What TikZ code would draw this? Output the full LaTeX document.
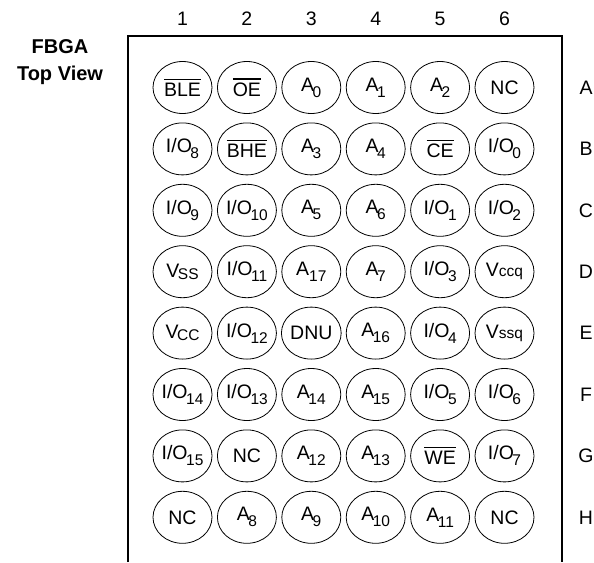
\documentclass[tikz,border=0pt]{standalone}
\usepackage{fontspec}
\setmainfont{Liberation Sans}
\usepackage{tikz}
\usetikzlibrary{shapes.geometric}

\newcommand{\pinsub}[3][6pt]{#2\kern-1.5pt\raisebox{-#1}{\fontsize{15.5}{16}\selectfont #3}}
\newcommand{\pinbar}[1]{\setbox0\hbox{#1}\rlap{\rule[\dimexpr\ht0+3pt\relax]{\wd0}{1.3pt}}\box0}

\tikzset{
  ball/.style={draw, ellipse, line width=0.8pt, minimum width=59pt,
    minimum height=52pt, inner sep=0pt, font=\fontsize{19.5}{22}\selectfont},
  tag/.style={font=\fontsize{19.5}{22}\selectfont},
}

\begin{document}
\begin{tikzpicture}[x=1pt, y=-1pt]
  \def\xsep{64.4}
  \def\ysep{61.4}
  \def\xo{182.5}
  \def\yo{87.5}

  \useasboundingbox (0,0) rectangle (594,562);

  \node[font=\bfseries\fontsize{20}{27}\selectfont, align=center] (title) at (60,62) {FBGA\\Top View};

  \draw[line width=1.5pt] (128,562) |- (562,36) -- (562,562);

  % column numbers
  \node[tag] (c1) at ({\xo+0*\xsep}, 19) {1};
  \node[tag] (c2) at ({\xo+1*\xsep}, 19) {2};
  \node[tag] (c3) at ({\xo+2*\xsep}, 19) {3};
  \node[tag] (c4) at ({\xo+3*\xsep}, 19) {4};
  \node[tag] (c5) at ({\xo+4*\xsep}, 19) {5};
  \node[tag] (c6) at ({\xo+5*\xsep}, 19) {6};

  % row letters
  \node[tag] (ra) at (586, {\yo+0*\ysep}) {A};
  \node[tag] (rb) at (586, {\yo+1*\ysep}) {B};
  \node[tag] (rc) at (586, {\yo+2*\ysep}) {C};
  \node[tag] (rd) at (586, {\yo+3*\ysep}) {D};
  \node[tag] (re) at (586, {\yo+4*\ysep}) {E};
  \node[tag] (rf) at (586, {\yo+5*\ysep}) {F};
  \node[tag] (rg) at (586, {\yo+6*\ysep}) {G};
  \node[tag] (rh) at (586, {\yo+7*\ysep}) {H};

  % row A
  \node[ball] (a1) at ({\xo+0*\xsep}, {\yo+0*\ysep}) {\pinbar{BLE}};
  \node[ball] (a2) at ({\xo+1*\xsep}, {\yo+0*\ysep}) {\pinbar{OE}};
  \node[ball] (a3) at ({\xo+2*\xsep}, {\yo+0*\ysep}) {\pinsub{A}{0}};
  \node[ball] (a4) at ({\xo+3*\xsep}, {\yo+0*\ysep}) {\pinsub{A}{1}};
  \node[ball] (a5) at ({\xo+4*\xsep}, {\yo+0*\ysep}) {\pinsub{A}{2}};
  \node[ball] (a6) at ({\xo+5*\xsep}, {\yo+0*\ysep}) {NC};

  % row B
  \node[ball] (b1) at ({\xo+0*\xsep}, {\yo+1*\ysep}) {\pinsub{I/O}{8}};
  \node[ball] (b2) at ({\xo+1*\xsep}, {\yo+1*\ysep}) {\pinbar{BHE}};
  \node[ball] (b3) at ({\xo+2*\xsep}, {\yo+1*\ysep}) {\pinsub{A}{3}};
  \node[ball] (b4) at ({\xo+3*\xsep}, {\yo+1*\ysep}) {\pinsub{A}{4}};
  \node[ball] (b5) at ({\xo+4*\xsep}, {\yo+1*\ysep}) {\pinbar{CE}};
  \node[ball] (b6) at ({\xo+5*\xsep}, {\yo+1*\ysep}) {\pinsub{I/O}{0}};

  % row C
  \node[ball] (c1) at ({\xo+0*\xsep}, {\yo+2*\ysep}) {\pinsub{I/O}{9}};
  \node[ball] (c2) at ({\xo+1*\xsep}, {\yo+2*\ysep}) {\pinsub{I/O}{10}};
  \node[ball] (c3) at ({\xo+2*\xsep}, {\yo+2*\ysep}) {\pinsub{A}{5}};
  \node[ball] (c4) at ({\xo+3*\xsep}, {\yo+2*\ysep}) {\pinsub{A}{6}};
  \node[ball] (c5) at ({\xo+4*\xsep}, {\yo+2*\ysep}) {\pinsub{I/O}{1}};
  \node[ball] (c6) at ({\xo+5*\xsep}, {\yo+2*\ysep}) {\pinsub{I/O}{2}};

  % row D
  \node[ball] (d1) at ({\xo+0*\xsep}, {\yo+3*\ysep}) {\pinsub[1.5pt]{V}{SS}};
  \node[ball] (d2) at ({\xo+1*\xsep}, {\yo+3*\ysep}) {\pinsub{I/O}{11}};
  \node[ball] (d3) at ({\xo+2*\xsep}, {\yo+3*\ysep}) {A\raisebox{-6pt}{\fontsize{15.5}{16}\selectfont 17}};
  \node[ball] (d4) at ({\xo+3*\xsep}, {\yo+3*\ysep}) {\pinsub{A}{7}};
  \node[ball] (d5) at ({\xo+4*\xsep}, {\yo+3*\ysep}) {\pinsub{I/O}{3}};
  \node[ball] (d6) at ({\xo+5*\xsep}, {\yo+3*\ysep}) {V\raisebox{0pt}{\fontsize{15.5}{16}\selectfont ccq}};

  % row E
  \node[ball] (e1) at ({\xo+0*\xsep}, {\yo+4*\ysep}) {\pinsub[1.5pt]{V}{CC}};
  \node[ball] (e2) at ({\xo+1*\xsep}, {\yo+4*\ysep}) {\pinsub{I/O}{12}};
  \node[ball] (e3) at ({\xo+2*\xsep}, {\yo+4*\ysep}) {DNU};
  \node[ball] (e4) at ({\xo+3*\xsep}, {\yo+4*\ysep}) {\pinsub{A}{16}};
  \node[ball] (e5) at ({\xo+4*\xsep}, {\yo+4*\ysep}) {\pinsub{I/O}{4}};
  \node[ball] (e6) at ({\xo+5*\xsep}, {\yo+4*\ysep}) {V\raisebox{0pt}{\fontsize{15.5}{16}\selectfont ssq}};

  % row F
  \node[ball] (f1) at ({\xo+0*\xsep}, {\yo+5*\ysep}) {\pinsub{I/O}{14}};
  \node[ball] (f2) at ({\xo+1*\xsep}, {\yo+5*\ysep}) {\pinsub{I/O}{13}};
  \node[ball] (f3) at ({\xo+2*\xsep}, {\yo+5*\ysep}) {\pinsub{A}{14}};
  \node[ball] (f4) at ({\xo+3*\xsep}, {\yo+5*\ysep}) {\pinsub{A}{15}};
  \node[ball] (f5) at ({\xo+4*\xsep}, {\yo+5*\ysep}) {\pinsub{I/O}{5}};
  \node[ball] (f6) at ({\xo+5*\xsep}, {\yo+5*\ysep}) {\pinsub{I/O}{6}};

  % row G
  \node[ball] (g1) at ({\xo+0*\xsep}, {\yo+6*\ysep}) {\pinsub{I/O}{15}};
  \node[ball] (g2) at ({\xo+1*\xsep}, {\yo+6*\ysep}) {NC};
  \node[ball] (g3) at ({\xo+2*\xsep}, {\yo+6*\ysep}) {\pinsub{A}{12}};
  \node[ball] (g4) at ({\xo+3*\xsep}, {\yo+6*\ysep}) {\pinsub{A}{13}};
  \node[ball] (g5) at ({\xo+4*\xsep}, {\yo+6*\ysep}) {\pinbar{WE}};
  \node[ball] (g6) at ({\xo+5*\xsep}, {\yo+6*\ysep}) {\pinsub{I/O}{7}};

  % row H
  \node[ball] (h1) at ({\xo+0*\xsep}, {\yo+7*\ysep}) {NC};
  \node[ball] (h2) at ({\xo+1*\xsep}, {\yo+7*\ysep}) {\pinsub{A}{8}};
  \node[ball] (h3) at ({\xo+2*\xsep}, {\yo+7*\ysep}) {\pinsub{A}{9}};
  \node[ball] (h4) at ({\xo+3*\xsep}, {\yo+7*\ysep}) {\pinsub{A}{10}};
  \node[ball] (h5) at ({\xo+4*\xsep}, {\yo+7*\ysep}) {\pinsub{A}{11}};
  \node[ball] (h6) at ({\xo+5*\xsep}, {\yo+7*\ysep}) {NC};
\end{tikzpicture}
\end{document}
